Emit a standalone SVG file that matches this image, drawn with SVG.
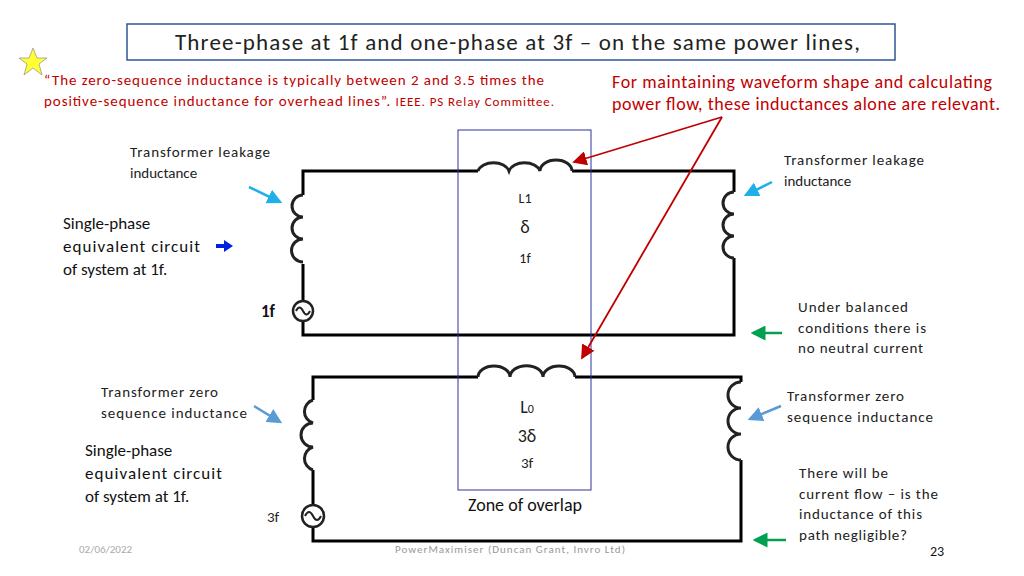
<svg xmlns="http://www.w3.org/2000/svg" width="1024" height="576" viewBox="0 0 1024 576">
<style>
text{font-family:Calibri,Carlito,"Liberation Sans",sans-serif}
.w{fill:none;stroke:#000;stroke-width:3}
.c{fill:none;stroke:#222;stroke-width:3}
.s{font-size:15px;fill:#222}
.m{font-size:17px;fill:#111}
.r{fill:#c00000}
</style>
<defs>
<marker id="ab" markerWidth="6" markerHeight="6" refX="5" refY="3" orient="auto" markerUnits="strokeWidth"><path d="M0,0L6,3L0,6z" fill="#1fb0e8"/></marker>
<marker id="ab2" markerWidth="6" markerHeight="6" refX="5" refY="3" orient="auto" markerUnits="strokeWidth"><path d="M0,0L6,3L0,6z" fill="#5b9bd5"/></marker>
<marker id="ag" markerWidth="6" markerHeight="6" refX="5" refY="3" orient="auto" markerUnits="strokeWidth"><path d="M0,0L6,3L0,6z" fill="#00a050"/></marker>
<marker id="ar" markerWidth="8" markerHeight="8" refX="7" refY="4" orient="auto" markerUnits="strokeWidth"><path d="M0,0L8,4L0,8z" fill="#c00000"/></marker>
</defs>
<rect width="1024" height="576" fill="#fff"/>
<g id="title"><rect x="127" y="24" width="768" height="36" fill="none" stroke="#2f5597" stroke-width="1.5"/>
<text x="175" y="50" font-size="23" textLength="685" lengthAdjust="spacing" fill="#222">Three-phase at 1f and one-phase at 3f – on the same power lines,</text></g>
<g id="star"><polygon points="33,48 37,58 47,58 39,64 42,75 33,68 24,75 27,64 19,58 29,58" fill="#ffff33" stroke="#999" stroke-width="0.8"/></g>
<g id="quote"><text x="44" y="85" font-size="15" class="r" textLength="500" lengthAdjust="spacing">“The zero-sequence  inductance is typically between  2 and 3.5 times the</text>
<text x="44" y="106" font-size="15" class="r" textLength="510" lengthAdjust="spacing">positive-sequence  inductance for overhead  lines”. <tspan font-size="13">IEEE. PS Relay Committee.</tspan></text></g>
<g id="note"><text x="612" y="88" font-size="18" class="r" textLength="380" lengthAdjust="spacing">For maintaining waveform shape and calculating</text>
<text x="612" y="110" font-size="18" class="r" textLength="388" lengthAdjust="spacing">power flow, these inductances alone are relevant.</text></g>
<g id="circuit1">
<path class="w" d="M303,195V171H478M572,171H734V192M734,258V335H303V321M303,301V264"/>
<path class="c" d="M478,171A16,11 0 0 1 509,171A16,11 0 0 1 540,171A16,11 0 0 1 572,171"/>
<path class="c" d="M303,195A11,11 0 0 0 303,217A11,11 0 0 0 303,239A11,11 0 0 0 303,262"/>
<path class="c" d="M734,192A11,11 0 0 0 734,214A11,11 0 0 0 734,236A11,11 0 0 0 734,258"/>
<circle cx="303" cy="311" r="10" fill="#fff" stroke="#222" stroke-width="2.5"/>
<path d="M296,311q3.5,-7 7,0t7,0" fill="none" stroke="#222" stroke-width="2"/>
<text x="261" y="317" font-size="17" font-weight="bold" fill="#111">1f</text>
</g>
<g id="circuit2">
<path class="w" d="M313,400V377H478M575,377H741V382M741,460V541H313V527M313,505V470"/>
<path class="c" d="M478,377A16,11 0 0 1 510,377A16,11 0 0 1 543,377A16,11 0 0 1 575,377"/>
<path class="c" d="M313,400A12,12 0 0 0 313,423A12,12 0 0 0 313,447A12,12 0 0 0 313,470"/>
<path class="c" d="M741,382A13,13 0 0 0 741,408A13,13 0 0 0 741,434A13,13 0 0 0 741,460"/>
<circle cx="313" cy="516" r="11" fill="#fff" stroke="#222" stroke-width="2.5"/>
<path d="M305,516q4,-8 8,0t8,0" fill="none" stroke="#222" stroke-width="2"/>
<text x="267" y="522" font-size="15" fill="#222">3f</text>
</g>
<g id="zone"><rect x="458" y="130" width="133" height="360" fill="none" stroke="#3030a0" stroke-width="1"/>
<text x="525" y="203" font-size="14" text-anchor="middle" fill="#222">L1</text>
<text x="525" y="233" font-size="18" text-anchor="middle" fill="#222">δ</text>
<text x="525" y="263" font-size="14" text-anchor="middle" fill="#222">1f</text>
<text x="527" y="413" font-size="18" text-anchor="middle" fill="#222">L<tspan font-size="12">0</tspan></text>
<text x="527" y="442" font-size="18" text-anchor="middle" fill="#222">3δ</text>
<text x="527" y="468" font-size="15" text-anchor="middle" fill="#222">3f</text>
<text x="525" y="511" font-size="18" fill="#111" text-anchor="middle">Zone of overlap</text></g>
<g id="labels">
<text x="130" y="157" class="s" textLength="140" lengthAdjust="spacing">Transformer leakage</text><text x="130" y="178" class="s">inductance</text>
<text x="63" y="229" class="m">Single-phase</text><text x="63" y="252" class="m" textLength="137" lengthAdjust="spacing">equivalent circuit</text><text x="63" y="275" class="m">of system at 1f.</text>
<text x="784" y="165" class="s" textLength="140" lengthAdjust="spacing">Transformer leakage</text><text x="784" y="186" class="s">inductance</text>
<text x="798" y="312" class="s" textLength="110" lengthAdjust="spacing">Under balanced</text><text x="798" y="333" class="s" textLength="128" lengthAdjust="spacing">conditions there is</text><text x="798" y="353" class="s" textLength="125" lengthAdjust="spacing">no neutral current</text>
<text x="101" y="397" class="s" textLength="117" lengthAdjust="spacing">Transformer zero</text><text x="101" y="418" class="s" textLength="146" lengthAdjust="spacing">sequence inductance</text>
<text x="85" y="456" class="m">Single-phase</text><text x="85" y="479" class="m" textLength="137" lengthAdjust="spacing">equivalent circuit</text><text x="85" y="502" class="m">of system at 1f.</text>
<text x="787" y="401" class="s" textLength="117" lengthAdjust="spacing">Transformer zero</text><text x="787" y="422" class="s" textLength="146" lengthAdjust="spacing">sequence inductance</text>
<text x="799" y="478" class="s" textLength="89" lengthAdjust="spacing">There will be</text><text x="799" y="499" class="s" textLength="139" lengthAdjust="spacing">current flow – is the</text><text x="799" y="519" class="s" textLength="123" lengthAdjust="spacing">inductance of this</text><text x="799" y="540" class="s" textLength="108" lengthAdjust="spacing">path negligible?</text>
<text x="79" y="553" font-size="11" fill="#aaa">02/06/2022</text>
<text x="510" y="553" font-size="11" fill="#999" text-anchor="middle" textLength="230" lengthAdjust="spacing">PowerMaximiser  (Duncan Grant, Invro Ltd)</text>
<text x="930" y="556" font-size="14" fill="#111">23</text>
</g>
<g id="connectors">
<line x1="249" y1="187" x2="280" y2="202" stroke="#1fb0e8" stroke-width="2.5" marker-end="url(#ab)"/>
<line x1="772" y1="182" x2="746" y2="195" stroke="#1fb0e8" stroke-width="2.5" marker-end="url(#ab)"/>
<line x1="216" y1="246" x2="226" y2="246" stroke="#0020e0" stroke-width="4"/>
<path d="M224,240L233,246L224,252z" fill="#0020e0"/>
<line x1="254" y1="406" x2="280" y2="422" stroke="#5b9bd5" stroke-width="2.5" marker-end="url(#ab2)"/>
<line x1="781" y1="406" x2="750" y2="419" stroke="#5b9bd5" stroke-width="2.5" marker-end="url(#ab2)"/>
<line x1="782" y1="333" x2="753" y2="333" stroke="#00a050" stroke-width="2.5" marker-end="url(#ag)"/>
<line x1="786" y1="540" x2="755" y2="540" stroke="#00a050" stroke-width="2.5" marker-end="url(#ag)"/>
<line x1="722" y1="117" x2="574" y2="162" stroke="#c00000" stroke-width="1.8" marker-end="url(#ar)"/>
<line x1="722" y1="117" x2="582" y2="358" stroke="#c00000" stroke-width="1.8" marker-end="url(#ar)"/>
</g>
</svg>
